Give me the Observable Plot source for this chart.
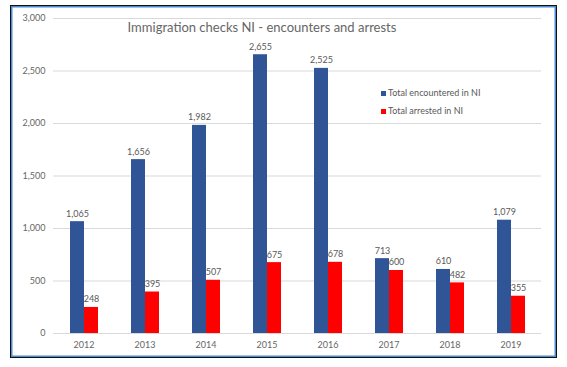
<!DOCTYPE html>
<html>
<head>
<meta charset="utf-8">
<script src="https://cdn.jsdelivr.net/npm/d3@7"></script>
<script src="https://cdn.jsdelivr.net/npm/@observablehq/plot@0.6"></script>
<style>
  html, body { margin: 0; padding: 0; background: #fff; }
  #chart { position: relative; width: 567px; height: 367px; font-family: Lato, "Open Sans", sans-serif; }
  #chart svg { position: absolute; left: 0; top: 0; }
  #frame { position: absolute; left: 10px; top: 5px; width: 545px; height: 351px; border: 1px solid #111; box-shadow: inset 0 0 0 1.5px #4a8ad4; pointer-events: none; }
  #title { position: absolute; left: 0; width: 524px; top: 19px; text-align: center; font-size: 13px; color: #666; white-space: nowrap; }
  .leg { position: absolute; left: 381px; font-size: 9px; color: #595959; white-space: nowrap; line-height: 10px; }
  .leg span { display: inline-block; width: 5px; height: 5px; margin-right: 2px; vertical-align: 0px; }
</style>
</head>
<body>
<div id="chart"></div>
<script>
const years = ["2012", "2013", "2014", "2015", "2016", "2017", "2018", "2019"];
const seriesKeys = ["enc", "arr"];
const seriesNames = ["Total encountered in NI", "Total arrested in NI"];
const seriesColors = ["#2F5597", "#FF0000"];
const encountered = [1065, 1656, 1982, 2655, 2525, 713, 610, 1079];
const arrested = [248, 395, 507, 675, 678, 600, 482, 355];
const yTicks = [0, 500, 1000, 1500, 2000, 2500, 3000];
const title = "Immigration checks NI - encounters and arrests";

const rows = [];
years.forEach((y, i) => {
  rows.push({year: y, series: "enc", value: encountered[i]});
  rows.push({year: y, series: "arr", value: arrested[i]});
});

const fmt = d3.format(",");

const plot = Plot.plot({
  width: 567,
  height: 367,
  marginLeft: 50,
  marginRight: 23,
  marginTop: 18,
  marginBottom: 34,
  style: {color: "#666", fontSize: "9px", fontFamily: "Lato, 'Open Sans', sans-serif", background: "transparent"},
  facet: {data: rows, x: "year"},
  fx: {domain: years, padding: 0, axis: "bottom", label: null, tickSize: 0, tickPadding: 8},
  x: {domain: seriesKeys, axis: null, paddingInner: 0, paddingOuter: 1.13},
  y: {domain: [0, 3000], ticks: yTicks, tickFormat: fmt, tickSize: 0, tickPadding: 8, label: null},
  color: {domain: seriesKeys, range: seriesColors},
  marks: [
    Plot.ruleY(yTicks, {stroke: "#d9d9d9", strokeWidth: 1}),
    Plot.barY(rows, {x: "series", y: "value", fill: "series", inset: 0}),
    Plot.text(rows, {x: "series", y: "value", text: d => fmt(d.value), dy: -8, fill: "#595959", fontSize: 9})
  ]
});

const chart = document.getElementById("chart");
chart.appendChild(plot);

const t = document.createElement("div");
t.id = "title";
t.textContent = title;
chart.appendChild(t);

seriesNames.forEach((n, i) => {
  const d = document.createElement("div");
  d.className = "leg";
  d.style.top = (88 + i * 18) + "px";
  const s = document.createElement("span");
  s.style.background = seriesColors[i];
  d.appendChild(s);
  d.appendChild(document.createTextNode(n));
  chart.appendChild(d);
});

const f = document.createElement("div");
f.id = "frame";
chart.appendChild(f);
</script>
</body>
</html>
